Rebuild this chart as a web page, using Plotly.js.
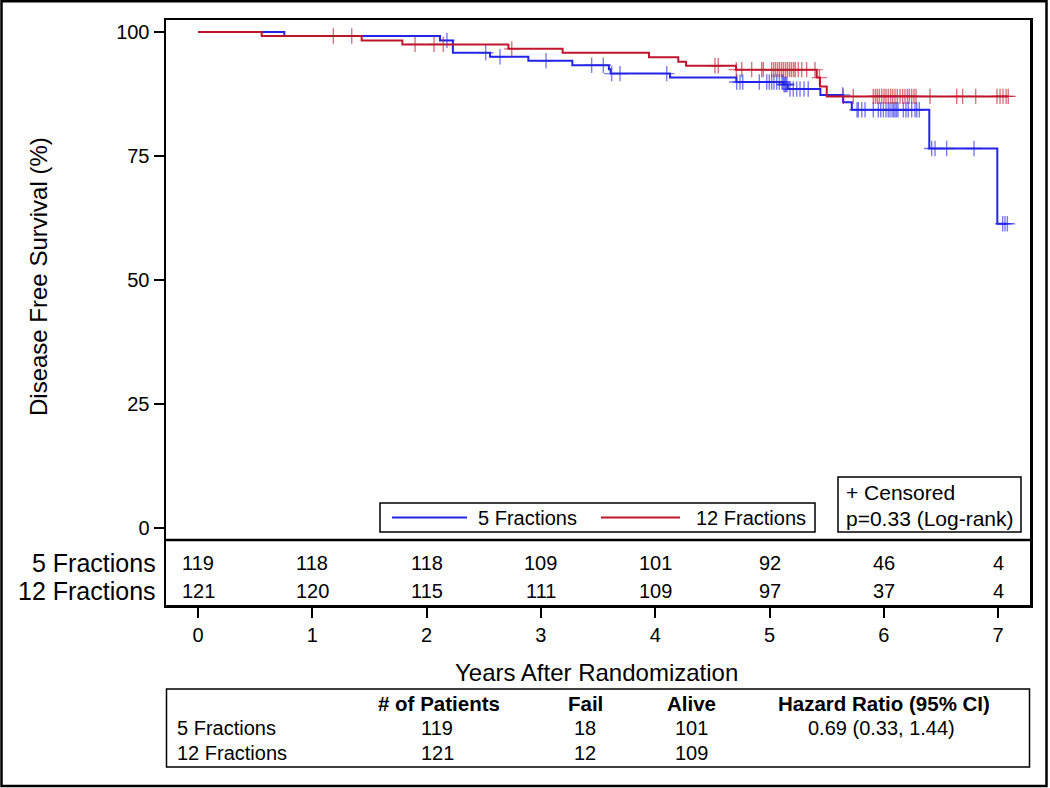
<!DOCTYPE html>
<html>
<head>
<meta charset="utf-8">
<script src="https://cdn.plot.ly/plotly-3.0.1.min.js"></script>
<style>html,body{margin:0;padding:0;background:#fff;}#chart{width:1050px;height:788px;}</style>
</head>
<body>
<div id="chart"></div>
<script>
// ---------- data ----------
const blueName = '5 Fractions';
const redName = '12 Fractions';
// Kaplan-Meier step points (years, % disease free)
const blueTime = [0, 0.755, 2.117, 2.23, 2.555, 2.89, 3.275, 3.595, 3.61, 4.13, 4.71, 5.12, 5.16, 5.445, 5.645, 5.72, 6.398, 6.993];
const blueSurv = [100, 99.2, 98.3, 95.8, 95.0, 94.2, 93.3, 92.5, 91.6, 90.8, 89.9, 89.4, 88.5, 87.3, 85.8, 84.3, 76.5, 61.3];
const redTime = [0, 0.557, 1.432, 1.788, 2.716, 3.19, 3.946, 4.202, 4.27, 4.707, 5.413, 5.442, 5.501];
const redSurv = [100, 99.2, 98.3, 97.5, 96.6, 95.8, 94.9, 94.0, 93.2, 92.4, 90.8, 89.0, 87.0];
// censoring times (years)
const blueCens = [2.178, 2.517, 2.642, 3.045, 3.444, 3.546, 3.619, 3.692, 4.101, 4.713, 4.742, 4.766, 4.911,
  4.976, 4.998, 5.019, 5.039, 5.063, 5.086, 5.109, 5.118, 5.127, 5.136, 5.144, 5.153, 5.179, 5.208, 5.238,
  5.267, 5.302, 5.339, 5.64, 5.766, 5.777, 5.807, 5.836, 5.908, 5.952, 5.973, 5.996, 6.019, 6.039, 6.054,
  6.072, 6.085, 6.098, 6.111, 6.124, 6.171, 6.194, 6.214, 6.244, 6.273, 6.288, 6.311, 6.419, 6.448, 6.55,
  6.789, 7.04, 7.06, 7.081];
const redCens = [1.184, 1.345, 1.899, 2.065, 2.146, 2.745, 4.523, 4.552, 4.71, 4.757, 4.844, 4.932, 4.946,
  5.019, 5.037, 5.054, 5.072, 5.089, 5.107, 5.124, 5.142, 5.159, 5.177, 5.194, 5.212, 5.226, 5.252, 5.282,
  5.325, 5.398, 5.437, 5.646, 5.733, 5.908, 5.926, 5.943, 5.961, 5.982, 6.002, 6.019, 6.039, 6.06, 6.078,
  6.098, 6.118, 6.142, 6.165, 6.185, 6.206, 6.223, 6.244, 6.264, 6.282, 6.404, 6.638, 6.69, 6.804, 6.99,
  7.017, 7.043, 7.07, 7.089];
// number at risk
const riskYears = [0, 1, 2, 3, 4, 5, 6, 7];
const riskBlue = [119, 118, 118, 109, 101, 92, 46, 4];
const riskRed = [121, 120, 115, 111, 109, 97, 37, 4];
const yTicks = [0, 25, 50, 75, 100];
// summary table
const tableHeader = ['# of Patients', 'Fail', 'Alive', 'Hazard Ratio (95% CI)'];
const tableGroups = ['5 Fractions', '12 Fractions'];
const tablePatients = [119, 121];
const tableFail = [18, 12];
const tableAlive = [101, 109];
const tableHR = ['0.69 (0.33, 1.44)', ''];
const pValueText = 'p=0.33 (Log-rank)';

// ---------- helpers ----------
const W = 1050, H = 788;
const PX = x => x / W;
const PY = y => 1 - y / H;
const FONT = 'Liberation Sans, Arial, Helvetica, sans-serif';
const BLUE = 'rgb(36,36,232)';
const RED = 'rgb(192,22,44)';
const BLUE_C = 'rgba(36,36,232,0.6)';
const RED_C = 'rgba(192,22,44,0.6)';

function stepAt(ts, ss, t) {
  let v = ss[0];
  for (let i = 0; i < ts.length; i++) { if (ts[i] <= t) v = ss[i]; }
  return v;
}
function extend(ts, ss, cens) {
  const tEnd = Math.max(ts[ts.length - 1], ...cens);
  return { x: ts.concat([tEnd]), y: ss.concat([ss[ss.length - 1]]) };
}
const bl = extend(blueTime, blueSurv, blueCens);
const rd = extend(redTime, redSurv, redCens);

const traces = [
  { x: bl.x, y: bl.y, mode: 'lines', line: { shape: 'hv', color: BLUE, width: 2 }, name: blueName, showlegend: false, hoverinfo: 'skip' },
  { x: blueCens, y: blueCens.map(t => stepAt(blueTime, blueSurv, t)), mode: 'markers', name: blueName + ' censored',
    marker: { symbol: 'cross-thin-open', size: 11, color: BLUE_C, line: { color: BLUE_C, width: 1.4 } }, showlegend: false, hoverinfo: 'skip' },
  { x: rd.x, y: rd.y, mode: 'lines', line: { shape: 'hv', color: RED, width: 2 }, name: redName, showlegend: false, hoverinfo: 'skip' },
  { x: redCens, y: redCens.map(t => stepAt(redTime, redSurv, t)), mode: 'markers', name: redName + ' censored',
    marker: { symbol: 'cross-thin-open', size: 11, color: RED_C, line: { color: RED_C, width: 1.4 } }, showlegend: false, hoverinfo: 'skip' }
];

// plot area in pixels
const L = 166, R = 1030, T = 20, B = 605;
const x0px = 198, xUnit = 114.3;      // year 0 position, px per year
const y0px = 527.5, yUnit = 4.955;    // 0% position, px per %

const shapes = [];
const ann = [];
function rect(x0, y0, x1, y1, w) {
  shapes.push({ type: 'rect', xref: 'paper', yref: 'paper', x0: PX(x0), x1: PX(x1), y0: PY(y1), y1: PY(y0), line: { color: 'black', width: w }, fillcolor: 'rgba(0,0,0,0)' });
}
function hline(x0, x1, y, color, w) {
  shapes.push({ type: 'line', xref: 'paper', yref: 'paper', x0: PX(x0), x1: PX(x1), y0: PY(y), y1: PY(y), line: { color: color, width: w } });
}
function text(t, x, y, size, anchor, opts) {
  ann.push(Object.assign({ text: t, xref: 'paper', yref: 'paper', x: PX(x), y: PY(y), xanchor: anchor, yanchor: 'middle', showarrow: false, font: { family: FONT, size: size, color: 'black' } }, opts || {}));
}

// outer frame
rect(1.5, 1.2, 1046.5, 786, 2.5);
// separator between plot and risk table
hline(L, R, 540, 'black', 2.5);
// legend box
rect(380, 503, 815, 532, 1.5);
hline(392, 467, 517.5, BLUE, 2);
hline(601, 680, 517.5, RED, 2);
text(blueName, 476, 518, 20, 'left');
text(redName, 694, 518, 20, 'left');
// censor / p-value box
rect(838, 477, 1021, 532, 1.5);
text('+ Censored', 844, 492, 21, 'left');
text(pValueText, 844, 518, 21, 'left');
// axis titles
text('Disease Free Survival (%)', 38, 277, 24, 'center', { textangle: -90 });
text('Years After Randomization', 596, 672, 24, 'center');
// risk table
text(blueName, 158, 563, 25, 'right');
text(redName, 158, 591, 25, 'right');
riskYears.forEach((yr, i) => {
  ann.push({ text: String(riskBlue[i]), xref: 'x', yref: 'paper', x: yr, y: PY(563), xanchor: 'center', yanchor: 'middle', showarrow: false, font: { family: FONT, size: 20, color: 'black' } });
  ann.push({ text: String(riskRed[i]), xref: 'x', yref: 'paper', x: yr, y: PY(591), xanchor: 'center', yanchor: 'middle', showarrow: false, font: { family: FONT, size: 20, color: 'black' } });
});
// summary table
rect(166.5, 689, 1029.5, 767, 1.5);
const colX = [439, 585, 691, 884];
tableHeader.forEach((h, i) => text('<b>' + h + '</b>', colX[i], 703, 20.5, 'center'));
tableGroups.forEach((g, r) => {
  const yy = 728 + r * 25;
  text(g, 175, yy, 20, 'left');
  text(String(tablePatients[r]), colX[0] - 2, yy, 20, 'center');
  text(String(tableFail[r]), colX[1], yy, 20, 'center');
  text(String(tableAlive[r]), colX[2], yy, 20, 'center');
  if (tableHR[r]) text(tableHR[r], colX[3] - 3, yy, 20, 'center');
});

const layout = {
  width: W, height: H,
  margin: { l: 0, r: 0, t: 0, b: 0 },
  paper_bgcolor: 'white', plot_bgcolor: 'white',
  showlegend: false,
  font: { family: FONT, size: 19, color: 'black' },
  xaxis: {
    domain: [PX(L), PX(R)],
    range: [(L - x0px) / xUnit, (R - x0px) / xUnit],
    tickvals: riskYears, ticktext: riskYears.map(String),
    ticks: 'outside', ticklen: 10, tickwidth: 2, tickcolor: 'black',
    showline: true, mirror: true, linecolor: 'black', linewidth: 2.5,
    showgrid: false, zeroline: false,
    tickfont: { family: FONT, size: 20, color: 'black' }
  },
  yaxis: {
    domain: [PY(B), PY(T)],
    range: [(y0px - B) / yUnit, (y0px - T) / yUnit],
    tickvals: yTicks, ticktext: yTicks.map(String),
    ticks: 'outside', ticklen: 10, tickwidth: 2, tickcolor: 'black',
    showline: true, mirror: true, linecolor: 'black', linewidth: 2.5,
    showgrid: false, zeroline: false,
    tickfont: { family: FONT, size: 20, color: 'black' }
  },
  shapes: shapes,
  annotations: ann
};

Plotly.newPlot('chart', traces, layout, { staticPlot: true, displayModeBar: false });
</script>
</body>
</html>
